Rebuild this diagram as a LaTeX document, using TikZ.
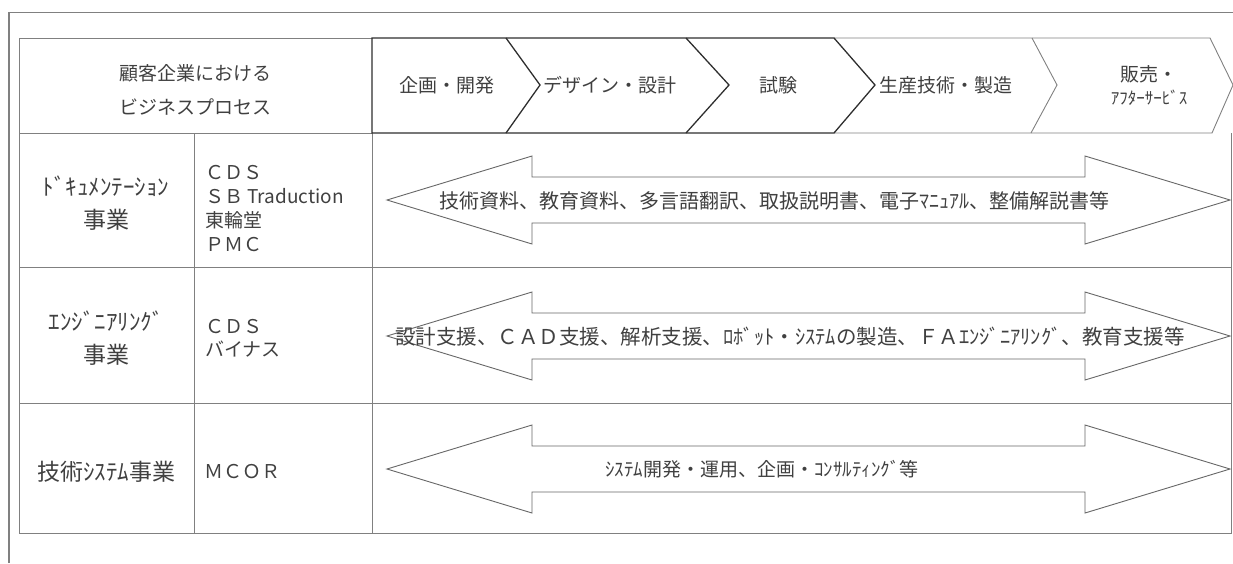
\documentclass[tikz,border=0pt]{standalone}
\usepackage{fontspec}
\setmainfont{Noto Sans CJK JP}
\definecolor{linegray}{HTML}{808080}
\definecolor{textgray}{HTML}{404040}
\definecolor{stepdark}{HTML}{2E2E2E}
\begin{document}
\begin{tikzpicture}[x=1pt,y=-1pt,
        grid line/.style={linegray,line width=1pt},
        chevron dark/.style={stepdark,line width=1.3pt},
        chevron light/.style={linegray,line width=0.9pt},
        big arrow/.style={linegray!80!black,line width=0.9pt,fill=white},
        celltext/.style={textgray,inner sep=0pt,font=\fontsize{19}{24}\selectfont},
        unittext/.style={celltext,align=center,font=\fontsize{23}{33}\selectfont}]
                \useasboundingbox (0,0) rectangle (1233,563);
                % Frame
                \draw[linegray,line width=1.6pt] (9,563) -- (9,12.5) -- (1233,12.5);
                % Table
                \draw[grid line] (372,38) -- (19,38) -- (19,533) -- (1231,533) -- (1231,133);
                \draw[grid line] (19,133) -- (372,133);
                \draw[grid line] (19,267) -- (1231,267);
                \draw[grid line] (19,403) -- (1231,403);
                \draw[grid line] (194,133) -- (194,533);
                \draw[grid line] (372,133) -- (372,533);
                % Process steps
                \draw[chevron light] (834,38) -- (1210,38) -- (1233,85) -- (1212,133) -- (834,133);
                \draw[chevron light] (1032,38) -- (1057,85) -- (1031,133);
                \draw[chevron dark] (372,38) -- (834,38) -- (875,85) -- (834,133) -- (372,133) -- cycle;
                \foreach \xa/\xb in {506/540,686/729}
                        \draw[chevron dark] (\xa,38) -- (\xb,85) -- (\xa,133);
                % Double arrows
                \foreach \yc in {200,336,469}
                        \draw[big arrow] (387,\yc) -- (532,\yc-44) -- (532,\yc-23) -- (1085,\yc-23)
                                -- (1085,\yc-44) -- (1230,\yc) -- (1085,\yc+44) -- (1085,\yc+23)
                                -- (532,\yc+23) -- (532,\yc+44) -- cycle;
                % Header texts
                \node[celltext,align=center,font=\fontsize{19}{34}\selectfont] (process) at (195,90) {顧客企業における\\ビジネスプロセス};
                \node[celltext] (plan) at (447,85) {企画・開発};
                \node[celltext] (design) at (610,85) {デザイン・設計};
                \node[celltext] (test) at (778,85) {試験};
                \node[celltext] (production) at (946,85) {生産技術・製造};
                \node[celltext,align=center,font=\fontsize{19}{23}\selectfont] (sales) at (1149,86) {販売・\\{\fontsize{17}{17}\selectfont ｱﾌﾀｰｻｰﾋﾞｽ}};
                % Documentation
                \node[unittext] (docu) at (106,203) {ﾄﾞｷｭﾒﾝﾃｰｼｮﾝ\\事業};
                \node[celltext,anchor=west,align=left,font=\fontsize{19}{23.7}\selectfont] (docu firms) at (205,208.5) {ＣＤＳ\\ＳＢ Traduction\\東輪堂\\ＰＭＣ};
                \node[celltext,font=\fontsize{20}{24}\selectfont] (docu work) at (774,201) {技術資料、教育資料、多言語翻訳、取扱説明書、電子ﾏﾆｭｱﾙ、整備解説書等};
                % Engineering
                \node[unittext] (eng) at (106,338) {ｴﾝｼﾞﾆｱﾘﾝｸﾞ\\事業};
                \node[celltext,anchor=west,align=left,font=\fontsize{19}{23}\selectfont] (eng firms) at (205,338) {ＣＤＳ\\バイナス};
                \node[celltext,font=\fontsize{20.5}{24}\selectfont] (eng work) at (790,337) {設計支援、ＣＡＤ支援、解析支援、ﾛﾎﾞｯﾄ・ｼｽﾃﾑの製造、ＦＡｴﾝｼﾞﾆｱﾘﾝｸﾞ、教育支援等};
                % Systems
                \node[unittext] (sys) at (106,472) {技術ｼｽﾃﾑ事業};
                \node[celltext,anchor=west] (sys firms) at (204,472) {ＭＣＯＲ};
                \node[celltext] (sys work) at (762,469) {ｼｽﾃﾑ開発・運用、企画・ｺﾝｻﾙﾃｨﾝｸﾞ等};
        \end{tikzpicture}
\end{document}
